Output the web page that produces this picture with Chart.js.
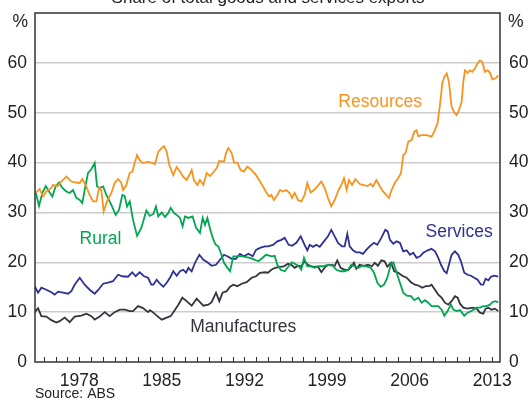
<!DOCTYPE html>
<html>
<head>
<meta charset="utf-8">
<title>Share of total goods and services exports</title>
<script src="https://cdn.jsdelivr.net/npm/chart.js@4.4.1/dist/chart.umd.min.js"></script>
<style>
  html, body { margin: 0; padding: 0; background: #fff; }
  #wrap { position: relative; width: 532px; height: 400px; }
</style>
</head>
<body>
<div id="wrap"><canvas id="exportsChart" width="532" height="400"></canvas></div>
<script>
// [year, share of exports %]
const resources = [
  [1974.36, 34], [1974.64, 34.7], [1974.93, 33.2], [1975.21, 34.2], [1975.64, 34.9], [1975.78, 35.5],
  [1976.2, 35.3], [1976.48, 36.2], [1976.91, 37.2], [1977.33, 36.2], [1977.76, 36], [1978.04, 35.9],
  [1978.26, 36.7], [1978.6, 35.2], [1978.88, 33.5], [1979.17, 32.2], [1979.45, 32.2], [1979.68, 34.9],
  [1979.87, 34.5], [1980.07, 30.2], [1980.35, 32.2], [1980.72, 33.9], [1981.0, 35.9], [1981.29, 36.7],
  [1981.57, 35.9], [1981.71, 34.5], [1981.99, 35.5], [1982.27, 37.9], [1982.5, 38.2], [1982.7, 39.9],
  [1982.9, 41.5], [1983.12, 40.5], [1983.4, 39.9], [1983.83, 40.2], [1984.42, 39.7], [1984.7, 42.2],
  [1984.99, 42.9], [1985.18, 43.3], [1985.41, 42.2], [1985.63, 39.5], [1985.97, 37.5], [1986.25, 39.1],
  [1986.54, 38.2], [1986.82, 37.1], [1987.1, 36.5], [1987.33, 37.5], [1987.53, 38.5], [1987.72, 36.5],
  [1988.01, 35.5], [1988.23, 36.5], [1988.52, 35.5], [1988.8, 37.9], [1989.08, 37.3], [1989.42, 38.2],
  [1989.65, 38.9], [1989.87, 40.3], [1990.27, 40.2], [1990.44, 41.9], [1990.63, 42.9], [1990.92, 41.9],
  [1991.12, 40], [1991.4, 40], [1991.68, 38.5], [1991.96, 38.2], [1992.24, 39.2], [1992.61, 38.5],
  [1992.98, 37.5], [1993.32, 36.2], [1993.6, 35.1], [1993.88, 33.9], [1994.11, 33.2], [1994.28, 33.5],
  [1994.5, 32.5], [1994.79, 33.5], [1995.01, 34.5], [1995.27, 34.2], [1995.55, 34.5], [1995.83, 33.9],
  [1996.03, 32.9], [1996.26, 33.9], [1996.54, 32.5], [1996.82, 32.2], [1997.1, 33.5], [1997.33, 35.9],
  [1997.61, 34], [1997.89, 34.5], [1998.18, 35.2], [1998.52, 36.2], [1998.8, 34.9], [1999.08, 32.9],
  [1999.36, 31.2], [1999.65, 32.5], [1999.98, 34.5], [2000.21, 35.5], [2000.44, 36.9], [2000.66, 34.5],
  [2000.86, 36.5], [2001.12, 35.5], [2001.4, 36.7], [2001.77, 35.7], [2002.13, 35.5], [2002.41, 35.3],
  [2002.7, 35.7], [2002.89, 35.2], [2003.18, 36.5], [2003.46, 35.3], [2003.74, 34.2], [2004.02, 33.5],
  [2004.25, 32.9], [2004.47, 34.5], [2004.76, 36], [2005.04, 36.9], [2005.27, 37.9], [2005.46, 41.5],
  [2005.66, 41.9], [2005.89, 44.2], [2006.17, 44.5], [2006.4, 46.2], [2006.59, 46.5], [2006.73, 45.3],
  [2007.02, 45.5], [2007.44, 45.5], [2007.86, 45.2], [2008.15, 46.5], [2008.37, 47.9], [2008.57, 51.5],
  [2008.77, 55.9], [2008.94, 57.2], [2009.14, 57.9], [2009.33, 56.2], [2009.56, 51.2], [2009.79, 50],
  [2009.98, 49.5], [2010.18, 50.5], [2010.41, 52.2], [2010.55, 56.2], [2010.69, 58.5], [2010.92, 58],
  [2011.11, 58.5], [2011.31, 58.2], [2011.54, 58.9], [2011.76, 59.9], [2011.96, 60.5], [2012.16, 60.2],
  [2012.38, 58.2], [2012.61, 58.5], [2012.81, 58], [2013.01, 56.7], [2013.29, 56.9], [2013.51, 57.5]
];

const rural = [
  [1974.31, 34], [1974.59, 31.3], [1974.87, 33.9], [1975.16, 35.3], [1975.44, 34.2], [1975.72, 33.2],
  [1976.0, 35.2], [1976.29, 36], [1976.57, 34.9], [1976.91, 34.2], [1977.19, 33.9], [1977.47, 34.5],
  [1977.76, 32.9], [1978.04, 32.5], [1978.26, 31.9], [1978.46, 34.5], [1978.74, 37.9], [1979.03, 38.7],
  [1979.31, 39.9], [1979.51, 35.2], [1979.73, 34.9], [1980.02, 35.2], [1980.3, 33.5], [1980.72, 31.5],
  [1981.09, 29.5], [1981.37, 30.5], [1981.65, 33.5], [1981.85, 33.3], [1982.05, 31.2], [1982.28, 32.2],
  [1982.56, 28.5], [1982.9, 25.3], [1983.26, 26.9], [1983.69, 30.4], [1983.97, 29.3], [1984.28, 29.7],
  [1984.5, 31.2], [1984.7, 29.2], [1984.99, 30], [1985.27, 29.1], [1985.55, 29.9], [1985.75, 30.9],
  [1986.03, 29.9], [1986.26, 29.5], [1986.54, 28.9], [1986.76, 27.2], [1986.96, 29.2], [1987.25, 28.9],
  [1987.61, 29.2], [1987.9, 26.9], [1988.23, 25.9], [1988.46, 28.9], [1988.66, 27.5], [1988.86, 28.9],
  [1989.14, 26.2], [1989.42, 24.2], [1989.59, 23.5], [1989.79, 23.2], [1989.99, 21.9], [1990.27, 19.9],
  [1990.55, 18.9], [1990.78, 18.2], [1991.06, 21.2], [1991.28, 21.2], [1991.62, 21.3], [1992.05, 21.1],
  [1992.47, 20.9], [1992.89, 20.5], [1993.18, 20.2], [1993.54, 20.9], [1993.83, 21.5], [1994.33, 21.2],
  [1994.56, 21.3], [1994.79, 19.5], [1995.07, 18.5], [1995.41, 18.2], [1995.75, 19.2], [1996.03, 20],
  [1996.26, 19.7], [1996.6, 19.2], [1996.82, 18.5], [1997.05, 20.9], [1997.33, 19.2], [1997.67, 19.2],
  [1997.95, 18.9], [1998.29, 19.2], [1998.66, 19.2], [1999.08, 19.5], [1999.5, 19.3], [1999.79, 18.5],
  [2000.15, 18.2], [2000.5, 18.2], [2000.78, 18.5], [2001.06, 19.5], [2001.4, 19.1], [2001.68, 18.9],
  [2001.96, 19.3], [2002.33, 19.2], [2002.7, 18.9], [2002.98, 17.9], [2003.27, 15.9], [2003.55, 15.1],
  [2003.83, 15.5], [2004.11, 16.9], [2004.42, 19.7], [2004.62, 20], [2004.9, 17.9], [2005.18, 15.9],
  [2005.46, 13.9], [2005.75, 13.3], [2006.11, 13.2], [2006.4, 12.4], [2006.73, 12.9], [2007.02, 11.9],
  [2007.3, 12.4], [2007.58, 11.9], [2007.86, 11.2], [2008.15, 11.2], [2008.43, 11.2], [2008.71, 10.5],
  [2008.94, 9.3], [2009.22, 10.2], [2009.5, 11.5], [2009.7, 10.5], [2009.98, 10.2], [2010.27, 10.4],
  [2010.63, 9.3], [2010.92, 9.9], [2011.2, 10.2], [2011.4, 10.5], [2011.68, 10.9], [2011.96, 10.9],
  [2012.24, 11.2], [2012.53, 11.2], [2012.81, 11.5], [2013.01, 12], [2013.23, 12.2], [2013.51, 12]
];

const services = [
  [1974.22, 15.2], [1974.51, 13.9], [1974.79, 14.9], [1975.21, 14.5], [1975.64, 14], [1975.92, 13.5],
  [1976.2, 14.1], [1976.63, 13.9], [1977.05, 13.7], [1977.33, 14.2], [1977.61, 15.5], [1978.04, 16.9],
  [1978.46, 15.5], [1978.88, 14.5], [1979.31, 13.7], [1979.59, 14.4], [1980.02, 15.7], [1980.44, 15.9],
  [1980.86, 16.2], [1981.29, 17.5], [1981.65, 17.2], [1982.13, 17.1], [1982.5, 18], [1982.78, 17.2],
  [1983.12, 18], [1983.49, 17.2], [1983.83, 16.9], [1984.11, 15.5], [1984.28, 15.5], [1984.56, 16.5],
  [1984.84, 15.7], [1985.13, 15.1], [1985.41, 15.9], [1985.69, 16.9], [1985.97, 18.2], [1986.26, 17.3],
  [1986.54, 18.2], [1986.82, 18.5], [1987.05, 17.9], [1987.25, 18.9], [1987.53, 18.2], [1987.81, 19.9],
  [1988.18, 21.5], [1988.52, 20.5], [1988.86, 20], [1989.22, 19.3], [1989.59, 19.5], [1989.93, 20.5],
  [1990.27, 21.5], [1990.63, 21.1], [1990.92, 20.7], [1991.28, 20.7], [1991.62, 21.7], [1991.96, 21.2],
  [1992.33, 21.7], [1992.7, 21.2], [1992.98, 22.5], [1993.32, 22.9], [1993.74, 23.2], [1994.0, 23.2],
  [1994.42, 23.5], [1994.79, 24.2], [1995.13, 24.5], [1995.41, 24.9], [1995.75, 23.5], [1996.03, 23.3],
  [1996.4, 23.9], [1996.77, 25.2], [1997.1, 23.5], [1997.33, 22.4], [1997.53, 23.5], [1997.81, 23.1],
  [1998.09, 23.5], [1998.38, 23.1], [1998.74, 24.2], [1999.08, 25.2], [1999.36, 26.5], [1999.65, 25.2],
  [1999.93, 23.9], [2000.27, 23.2], [2000.49, 23.2], [2000.72, 25.7], [2000.92, 23.2], [2001.2, 22.4],
  [2001.48, 22], [2001.77, 22], [2002.05, 21.7], [2002.33, 22.5], [2002.61, 23.2], [2002.98, 23.9],
  [2003.26, 23.5], [2003.6, 24.9], [2003.94, 26.5], [2004.14, 26.2], [2004.33, 24.5], [2004.62, 23.7],
  [2004.9, 24.2], [2005.18, 23.9], [2005.46, 22.2], [2005.75, 22.4], [2006.03, 21.5], [2006.31, 21.9],
  [2006.59, 20.9], [2006.88, 21.2], [2007.16, 21.9], [2007.53, 22.4], [2007.86, 22.7], [2008.15, 22.2],
  [2008.43, 20.9], [2008.66, 19.5], [2008.94, 18.2], [2009.14, 17.8], [2009.33, 19.5], [2009.56, 21.5],
  [2009.84, 22.2], [2010.12, 21.5], [2010.35, 20.2], [2010.63, 17.9], [2010.92, 17.5], [2011.2, 17.3],
  [2011.48, 16.9], [2011.76, 16.5], [2012.05, 15.5], [2012.24, 15.5], [2012.44, 16.7], [2012.67, 16.4],
  [2012.89, 17.1], [2013.18, 17.3], [2013.51, 17.1]
];

const manufactures = [
  [1974.22, 10], [1974.51, 10.8], [1974.79, 9.2], [1975.21, 9.1], [1975.64, 8.4], [1976.06, 7.9],
  [1976.34, 8.2], [1976.77, 8.9], [1977.19, 8], [1977.61, 9.1], [1978.18, 9.3], [1978.6, 9.7],
  [1979.03, 9.2], [1979.31, 8.5], [1979.73, 9.1], [1980.16, 10], [1980.58, 9.2], [1981.0, 10],
  [1981.43, 10.5], [1981.85, 10.5], [1982.28, 10.2], [1982.56, 10.2], [1982.98, 11.2], [1983.4, 10.8],
  [1983.83, 10], [1984.0, 10.4], [1984.28, 9.9], [1984.62, 9.2], [1984.99, 8.5], [1985.41, 8.9],
  [1985.75, 9.2], [1986.12, 10.5], [1986.4, 11.5], [1986.74, 12.9], [1987.1, 12.2], [1987.53, 11.3],
  [1987.95, 12.7], [1988.23, 12], [1988.52, 11.3], [1988.94, 11.5], [1989.22, 12], [1989.59, 13.9],
  [1989.87, 12.2], [1990.15, 13.9], [1990.49, 14.2], [1990.78, 15.1], [1991.06, 15.5], [1991.4, 15.2],
  [1991.77, 15.7], [1992.19, 16], [1992.61, 16.9], [1992.98, 17.2], [1993.32, 17.9], [1993.74, 18],
  [1994.0, 17.9], [1994.28, 18.5], [1994.62, 18.9], [1994.99, 19.1], [1995.35, 19.2], [1995.69, 19.7],
  [1995.97, 19.5], [1996.26, 18.9], [1996.54, 19.3], [1996.82, 19.2], [1997.1, 20.2], [1997.39, 19.5],
  [1997.67, 19.2], [1997.95, 19.1], [1998.23, 19.1], [1998.52, 18], [1998.86, 19.1], [1999.14, 19.5],
  [1999.42, 19.5], [1999.65, 19.3], [1999.87, 20.4], [2000.15, 18.9], [2000.49, 18.5], [2000.78, 18.4],
  [2001.06, 19.1], [2001.28, 19.9], [2001.48, 18.7], [2001.77, 19.5], [2002.13, 19.3], [2002.47, 19.5],
  [2002.81, 19.2], [2003.04, 19.9], [2003.32, 19.3], [2003.6, 20.4], [2003.88, 20.2], [2004.11, 19.1],
  [2004.42, 19.9], [2004.7, 18.2], [2005.04, 17.9], [2005.38, 17.3], [2005.75, 16.9], [2006.11, 16],
  [2006.45, 15.5], [2006.79, 15.3], [2007.07, 14.9], [2007.36, 15.2], [2007.64, 15.2], [2007.86, 15.5],
  [2008.15, 14.5], [2008.43, 13.5], [2008.71, 12.9], [2008.99, 11.9], [2009.28, 11.5], [2009.56, 12.2],
  [2009.84, 13.2], [2010.07, 12.9], [2010.27, 11.7], [2010.55, 10.9], [2010.92, 10.7], [2011.31, 10.9],
  [2011.68, 10.7], [2011.96, 9.9], [2012.24, 9.7], [2012.44, 10.7], [2012.67, 10.9], [2012.95, 10.5],
  [2013.23, 10.7], [2013.51, 10.2]
];

// axis labels and series names
const yearLabels = [1978, 1985, 1992, 1999, 2006, 2013];
const yTicks = [0, 10, 20, 30, 40, 50, 60];
const seriesNames = ['Resources', 'Rural', 'Services', 'Manufactures'];
// where each series name sits, in [year, %]
const namePlaces = [[2003.5, 52.2], [1979.8, 24.6], [2010.2, 26], [1991.9, 7]];

const colours = ['#f7941d', '#00a651', '#2e3192', '#34343f'];
const FONT = "'Liberation Sans', Arial, sans-serif";
const TEXT_SIZE = 17.5;

document.addEventListener('DOMContentLoaded', () => {
    const toPoints = arr => arr.map(p => ({ x: p[0], y: p[1] }));
    const allSeries = [resources, rural, services, manufactures];

    const datasets = allSeries.map((s, i) => ({
        label: seriesNames[i],
        data: toPoints(s),
        borderColor: colours[i],
        borderWidth: 1.8,
        pointRadius: 0,
        tension: 0,
        yAxisID: 'y'
    }));

    // frame, inner year ticks, title, % signs, series names, source
    const decorations = {
        id: 'decorations',
        afterDatasetsDraw(chart) {
            const { ctx, chartArea: a, scales } = chart;
            ctx.save();

            // little yearly ticks standing on the bottom axis
            ctx.strokeStyle = '#333';
            ctx.lineWidth = 1;
            scales.x.ticks.forEach(t => {
                const px = Math.round(scales.x.getPixelForValue(t.value)) + 0.5;
                ctx.beginPath();
                ctx.moveTo(px, a.bottom);
                ctx.lineTo(px, a.bottom - 5);
                ctx.stroke();
            });

            ctx.strokeStyle = '#333';
            ctx.lineWidth = 1.5;
            ctx.strokeRect(a.left, a.top, a.right - a.left, a.bottom - a.top);

            ctx.font = TEXT_SIZE + 'px ' + FONT;
            ctx.textBaseline = 'middle';
            seriesNames.forEach((name, i) => {
                ctx.fillStyle = colours[i];
                ctx.textAlign = 'center';
                ctx.fillText(name, scales.x.getPixelForValue(namePlaces[i][0]), scales.y.getPixelForValue(namePlaces[i][1]));
            });

            ctx.fillStyle = '#222';
            ctx.textAlign = 'right';
            ctx.fillText('%', a.left - 7, a.top + 9);
            ctx.textAlign = 'left';
            ctx.fillText('%', a.right + 8, a.top + 9);

            ctx.font = '17px ' + FONT;
            ctx.textAlign = 'center';
            ctx.textBaseline = 'alphabetic';
            ctx.fillText('Share of total goods and services exports', 268, 3);

            ctx.font = '14px ' + FONT;
            ctx.textAlign = 'left';
            ctx.fillText('Source: ABS', a.left, 398);
            ctx.restore();
        }
    };

    const yTickOpts = {
        autoSkip: false,
        color: '#222',
        font: { family: FONT, size: TEXT_SIZE },
        callback: v => (yTicks.includes(v) ? String(v) : '')
    };

    // fixed axis sizes so the plot sits where the original does
    const noPad = s => { s.paddingTop = 0; s.paddingBottom = 0; s.paddingLeft = 0; s.paddingRight = 0; };

    new Chart(document.getElementById('exportsChart'), {
        type: 'line',
        data: { datasets },
        plugins: [decorations],
        options: {
            responsive: false,
            animation: false,
            layout: { padding: { top: 13, left: 0, right: 0, bottom: 0 } },
            plugins: { legend: { display: false }, tooltip: { enabled: false } },
            scales: {
                x: {
                    type: 'linear',
                    min: 1974.25,
                    max: 2013.66,
                    afterFit: s => { s.height = 38; noPad(s); },
                    grid: { display: false, drawTicks: false },
                    border: { display: false },
                    ticks: {
                        stepSize: 1,
                        includeBounds: false,
                        autoSkip: false,
                        maxRotation: 0,
                        padding: 9,
                        color: '#222',
                        font: { family: FONT, size: TEXT_SIZE },
                        callback: v => (yearLabels.includes(v) ? String(v) : '')
                    }
                },
                y: {
                    position: 'left',
                    min: 0,
                    max: 70,
                    afterFit: s => { s.width = 35; noPad(s); },
                    border: { display: false },
                    grid: {
                        drawTicks: false,
                        lineWidth: 1.5,
                        color: c => (c.tick.value > 0 && c.tick.value < 70 ? '#cccccc' : 'rgba(0,0,0,0)')
                    },
                    ticks: Object.assign({ stepSize: 10, padding: 8 }, yTickOpts)
                },
                y2: {
                    position: 'right',
                    min: 0,
                    max: 70,
                    afterFit: s => { s.width = 32; noPad(s); },
                    border: { display: false },
                    grid: { display: false, drawTicks: false },
                    ticks: Object.assign({ stepSize: 10, padding: 9 }, yTickOpts)
                }
            }
        }
    });
});
</script>
</body>
</html>
